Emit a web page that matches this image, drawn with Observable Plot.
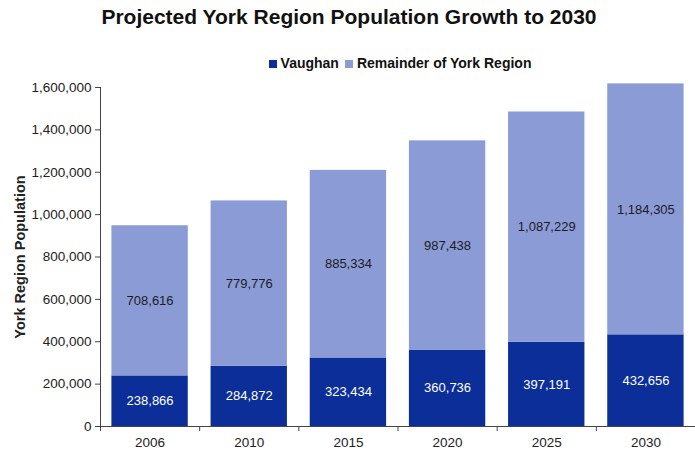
<!DOCTYPE html>
<html><head><meta charset="utf-8">
<script src="https://cdn.jsdelivr.net/npm/d3@7"></script>
<script src="https://cdn.jsdelivr.net/npm/@observablehq/plot@0.6"></script>
<style>
body{margin:0;background:#fff;font-family:"Liberation Sans",Arial,sans-serif;}
#wrap{position:relative;width:695px;height:455px;overflow:hidden;}
#title{position:absolute;top:5px;left:0;width:698px;text-align:center;font-weight:bold;font-size:21px;color:#111;}
#legend{position:absolute;top:55px;left:0;width:800px;text-align:center;font-weight:bold;font-size:14px;color:#111;}
#legend span.item{margin:0 3px;white-space:nowrap;}
#legend span.sw{display:inline-block;width:8px;height:8px;margin-right:4px;vertical-align:0px;}
#chart{position:absolute;top:75px;left:0;}
#chart svg [aria-label="y-axis label"] text{font-weight:bold;font-size:14.5px;}
#chart svg [aria-label="y-axis tick label"] text{font-size:13.5px;}
</style>
</head><body>
<div id="wrap">
  <div id="title">Projected York Region Population Growth to 2030</div>
  <div id="legend"></div>
  <div id="chart"></div>
</div>
<script>
const years = ["2006", "2010", "2015", "2020", "2025", "2030"];
const vaughan = [238866, 284872, 323434, 360736, 397191, 432656];
const remainder = [708616, 779776, 885334, 987438, 1087229, 1184305];
const seriesNames = ["Vaughan", "Remainder of York Region"];
const seriesColors = ["#0b2e98", "#8b9bd6"];
const labelColors = ["#ffffff", "#1c1c24"];
const yTicks = [0, 200000, 400000, 600000, 800000, 1000000, 1200000, 1400000, 1600000];

const data = years.flatMap((yr, i) => [
  {year: yr, series: seriesNames[0], value: vaughan[i]},
  {year: yr, series: seriesNames[1], value: remainder[i]}
]);
const fmt = d3.format(",");

// legend
const legend = document.getElementById("legend");
seriesNames.forEach((s, i) => {
  const item = document.createElement("span");
  item.className = "item";
  item.innerHTML = `<span class="sw" style="background:${seriesColors[i]}"></span>${s}`;
  legend.appendChild(item);
});

// custom mark: axis lines and category boundary ticks
function bandFrame(index, scales, values, dimensions) {
  const x = scales.x;
  const bw = typeof x.bandwidth === "function" ? x.bandwidth() : x.bandwidth;
  const step = typeof x.step === "function" ? x.step() : x.step;
  const {marginLeft, marginTop, marginBottom, marginRight, width, height} = dimensions;
  const y0 = height - marginBottom;
  const g = d3.create("svg:g").attr("stroke", "#444").attr("fill", "none").attr("stroke-width", 1);
  const half = (step - bw) / 2;
  const bounds = years.map(c => x(c) - half);
  bounds.push(x(years[years.length - 1]) + bw + half);
  g.append("line").attr("x1", marginLeft).attr("x2", width - marginRight).attr("y1", y0 + 0.5).attr("y2", y0 + 0.5);
  g.append("line").attr("x1", marginLeft + 0.5).attr("x2", marginLeft + 0.5).attr("y1", marginTop).attr("y2", y0);
  for (const b of bounds) {
    g.append("line").attr("x1", b + 0.5).attr("x2", b + 0.5).attr("y1", y0).attr("y2", y0 + 5);
  }
  return g.node();
}

const plot = Plot.plot({
  width: 695,
  height: 380,
  marginTop: 12,
  marginBottom: 29,
  marginLeft: 100,
  marginRight: 0,
  style: {fontFamily: "'Liberation Sans', Arial, sans-serif", fontSize: "13px", color: "#222", background: "white"},
  x: {domain: years, paddingInner: 0.23, paddingOuter: 0.115, round: false, label: null},
  y: {domain: [0, 1600000], label: "York Region Population"},
  color: {domain: seriesNames, range: seriesColors},
  marks: [
    Plot.barY(data, {x: "year", y: "value", fill: "series", z: "series", order: seriesNames}),
    ...seriesNames.map((s, i) =>
      Plot.text(data, Plot.stackY({
        x: "year", y: "value", z: "series", order: seriesNames,
        text: d => d.series === s ? fmt(d.value) : "",
        fill: labelColors[i], fontSize: 13
      }))
    ),
    Plot.axisY({ticks: yTicks, tickFormat: fmt, tickSize: 5, tickPadding: 4, stroke: "#444",
      label: "York Region Population", labelAnchor: "center", labelArrow: "none", labelOffset: 86}),
    Plot.axisX({tickSize: 0, tickPadding: 11, label: null, fontSize: 13.5}),
    bandFrame
  ]
});
document.getElementById("chart").appendChild(plot);
</script>
</body></html>
